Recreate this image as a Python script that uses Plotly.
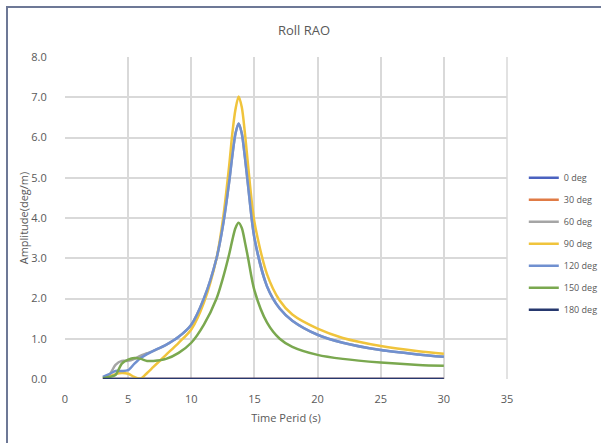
import plotly.graph_objects as go

# Wave period (s)
period = [3, 3.5, 4, 4.5, 5, 5.5, 6, 6.5, 7, 8, 9, 10, 11, 12, 12.5, 13, 13.25, 13.5,
          13.75, 14, 14.25, 14.5, 15, 16, 17, 18, 20, 22, 25, 28, 30]

# Roll RAO amplitude (deg/m) for each heading
rao_0 = [0.0] * len(period)
rao_30 = [0.0] * len(period)
rao_60 = [0.03, 0.10, 0.35, 0.45, 0.45, 0.50, 0.58, 0.64, 0.70, 0.85, 1.05, 1.35, 2.0,
          3.0, 3.8, 4.9, 5.55, 6.1, 6.35, 6.1, 5.5, 4.8, 3.5, 2.3, 1.75, 1.45, 1.1, 0.9,
          0.72, 0.61, 0.55]
rao_90 = [0.02, 0.06, 0.12, 0.15, 0.13, 0.05, 0.01, 0.15, 0.30, 0.60, 0.90, 1.23, 1.9,
          3.0, 3.95, 5.3, 6.1, 6.7, 7.02, 6.75, 6.1, 5.3, 3.9, 2.6, 1.95, 1.6, 1.25, 1.02,
          0.82, 0.69, 0.63]
rao_120 = [0.05, 0.12, 0.20, 0.20, 0.22, 0.38, 0.52, 0.62, 0.70, 0.85, 1.05, 1.35, 2.0,
           3.0, 3.8, 4.9, 5.55, 6.1, 6.35, 6.1, 5.5, 4.8, 3.5, 2.3, 1.75, 1.45, 1.1, 0.9,
           0.72, 0.61, 0.55]
rao_150 = [0.02, 0.05, 0.10, 0.38, 0.48, 0.52, 0.50, 0.45, 0.45, 0.50, 0.65, 0.90, 1.35,
           2.0, 2.5, 3.1, 3.45, 3.75, 3.88, 3.75, 3.4, 3.0, 2.2, 1.4, 1.0, 0.8, 0.6, 0.5,
           0.41, 0.35, 0.33]
rao_180 = [0.0] * len(period)

headings = ["0 deg", "30 deg", "60 deg", "90 deg", "120 deg", "150 deg", "180 deg"]
series = [rao_0, rao_30, rao_60, rao_90, rao_120, rao_150, rao_180]
colors = ["#4a62c0", "#e07b45", "#a5a5a5", "#f0c43c", "#7090d0", "#7aa84f", "#26386e"]

fig = go.Figure()
for name, vals, col in zip(headings, series, colors):
    fig.add_trace(go.Scatter(
        x=period, y=vals, name=name, mode="lines",
        line=dict(color=col, width=2.5, shape="spline", smoothing=0.8),
        legendgroup=name,
    ))

grid = "#d9d9d9"
font_family = "Open Sans, sans-serif"
tick_font = dict(family=font_family, size=11, color="#595959")

fig.update_layout(
    width=601, height=443,
    margin=dict(l=65, r=94, t=57, b=64, autoexpand=False),
    paper_bgcolor="white", plot_bgcolor="white",
    title=dict(text="Roll RAO", x=(304 / 601), xanchor="center", y=1 - 30 / 443, yanchor="middle",
               font=dict(family=font_family, size=13, color="#595959")),
    xaxis=dict(range=[0, 35], dtick=5, tick0=0, showgrid=True, gridcolor=grid, gridwidth=1.5,
               zeroline=False, showline=False, tickfont=tick_font,
               ticks="outside", ticklen=10, tickcolor="rgba(0,0,0,0)",
               title=dict(text="Time Perid (s)", standoff=9,
                          font=dict(family=font_family, size=11, color="#595959"))),
    yaxis=dict(range=[0, 8], dtick=1, tick0=0, tickformat=".1f", showgrid=True, gridcolor=grid,
               gridwidth=1.5, zeroline=False, showline=False, tickfont=tick_font,
               ticks="outside", ticklen=15, tickcolor="rgba(0,0,0,0)",
               title=dict(text="Amplitude(deg/m)", standoff=0,
                          font=dict(family=font_family, size=11, color="#595959"))),
    legend=dict(x=1.038, xanchor="left", y=0.42, yanchor="middle", tracegroupgap=3,
                font=dict(family=font_family, size=9, color="#595959"),
                bgcolor="rgba(0,0,0,0)", itemwidth=30),
    shapes=[
        # outer chart frame (left and top edges visible)
        dict(type="rect", xref="paper", yref="paper",
             x0=(7 - 65) / 442, x1=1.5, y0=-0.5, y1=(379 - 7) / 322,
             line=dict(color="#6d7896", width=2), layer="below"),
        # right edge of the plot area
        dict(type="line", xref="paper", yref="paper", x0=1, x1=1, y0=0, y1=1,
             line=dict(color=grid, width=1.5), layer="below"),
    ],
)

fig.write_html("out.html")
